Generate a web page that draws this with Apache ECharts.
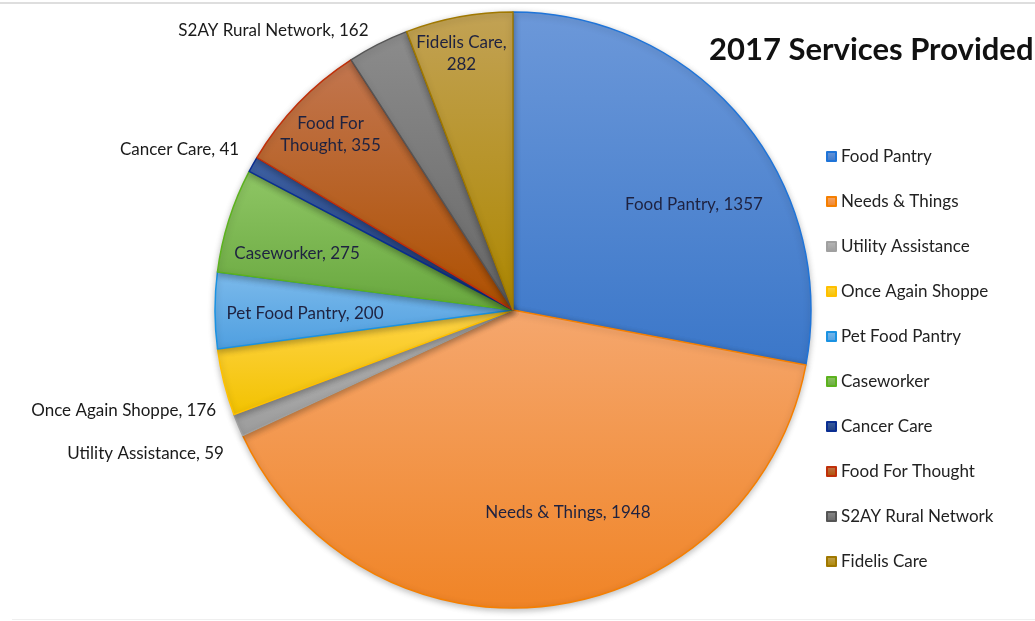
<!DOCTYPE html>
<html>
<head>
<meta charset="utf-8">
<script src="https://cdn.jsdelivr.net/npm/echarts@6/dist/echarts.min.js"></script>
<style>
html,body{margin:0;padding:0;background:#fff;}
#main{width:1035px;height:621px;}
</style>
</head>
<body>
<div id="main"></div>
<script>
// ---- data ----
const categories = ['Food Pantry','Needs & Things','Utility Assistance','Once Again Shoppe','Pet Food Pantry','Caseworker','Cancer Care','Food For Thought','S2AY Rural Network','Fidelis Care'];
const values = [1357, 1948, 59, 176, 200, 275, 41, 355, 162, 282];
const titleText = '2017 Services Provided';

// ---- styling ----
const palette = [
  ['#6c98d9','#3b77c9','#1f74d8'],
  ['#f5a76e','#f08426','#f57f00'],
  ['#b8b8b8','#9c9c9c','#a0a0a0'],
  ['#ffd448','#f2c200','#ffc000'],
  ['#7cbaeb','#4f9fe0','#1a92e2'],
  ['#8fc665','#68a73e','#5cb21e'],
  ['#3f62a3','#1f3c7f','#0a2e92'],
  ['#c27650','#ae5000','#c0300a'],
  ['#8c8c8c','#676767','#555555'],
  ['#c2a255','#ad8700','#a07800']
];
const insideLabels = {
  'Food Pantry':[64,-8], 'Needs & Things':[36,52], 'Pet Food Pantry':[-56,3],
  'Caseworker':[-71,-11], 'Food For Thought':[-73,-70], 'Fidelis Care':[-24,-107]
};
const outsideShift = {
  'Utility Assistance':[0,24], 'Once Again Shoppe':[7,26], 'Cancer Care':[0,-10], 'S2AY Rural Network':[0,-5]
};
// where Excel wrapped the label text
const breakInName = {'Food For Thought': 8};   // break after "Food For"
const breakBeforeValue = {'Fidelis Care': true};

function labelText(p) {
  let name = p.name;
  if (breakInName[name] !== undefined) {
    const k = breakInName[name];
    name = name.slice(0, k) + '\n' + name.slice(k + 1);
  }
  return name + (breakBeforeValue[p.name] ? ',\n' : ', ') + p.value;
}

const data = categories.map((name, i) => {
  const inside = insideLabels[name] !== undefined;
  return {
    name: name,
    value: values[i],
    itemStyle: {
      color: new echarts.graphic.LinearGradient(0, 0, 0, 1, [
        {offset: 0, color: palette[i][0]},
        {offset: 1, color: palette[i][1]}
      ]),
      borderColor: palette[i][2],
      borderWidth: 1.5
    },
    label: inside ? {position: 'inside', color: '#1e2240'} : {position: 'outside', color: '#1a1a1a'},
    labelLine: {show: false, length: 10, length2: 0}
  };
});

const chart = echarts.init(document.getElementById('main'), null, {renderer: 'canvas'});
chart.setOption({
  backgroundColor: '#ffffff',
  animation: false,
  title: {
    text: titleText,
    left: 704, top: 29,
    textStyle: {fontFamily: 'Lato', fontWeight: 'bold', fontSize: 31, color: '#111'}
  },
  legend: {
    orient: 'vertical',
    left: 821, top: 143,
    icon: 'rect',
    itemWidth: 9, itemHeight: 9,
    itemGap: 28,
    data: categories,
    textStyle: {fontFamily: 'Lato', fontSize: 17, color: '#222'}
  },
  graphic: [
    {type: 'rect', shape: {x: 0, y: 2, width: 1035, height: 2}, style: {fill: '#dedede'}, silent: true},
    {type: 'rect', shape: {x: 12, y: 619, width: 1023, height: 1}, style: {fill: '#efefef'}, silent: true}
  ],
  series: [{
    type: 'pie',
    center: [513, 310],
    radius: 298,
    startAngle: 90,
    clockwise: true,
    avoidLabelOverlap: false,
    data: data,
    itemStyle: {shadowColor: 'rgba(0,0,0,0.25)', shadowBlur: 6, shadowOffsetY: 2},
    label: {
      fontFamily: 'Lato', fontSize: 17,
      formatter: labelText,
      lineHeight: 22
    },
    labelLayout: function (params) {
      const n = categories[params.dataIndex];
      const o = insideLabels[n] || outsideShift[n] || [0, 0];
      return {dx: o[0], dy: o[1]};
    },
    emphasis: {disabled: true}
  }]
});
</script>
</body>
</html>
